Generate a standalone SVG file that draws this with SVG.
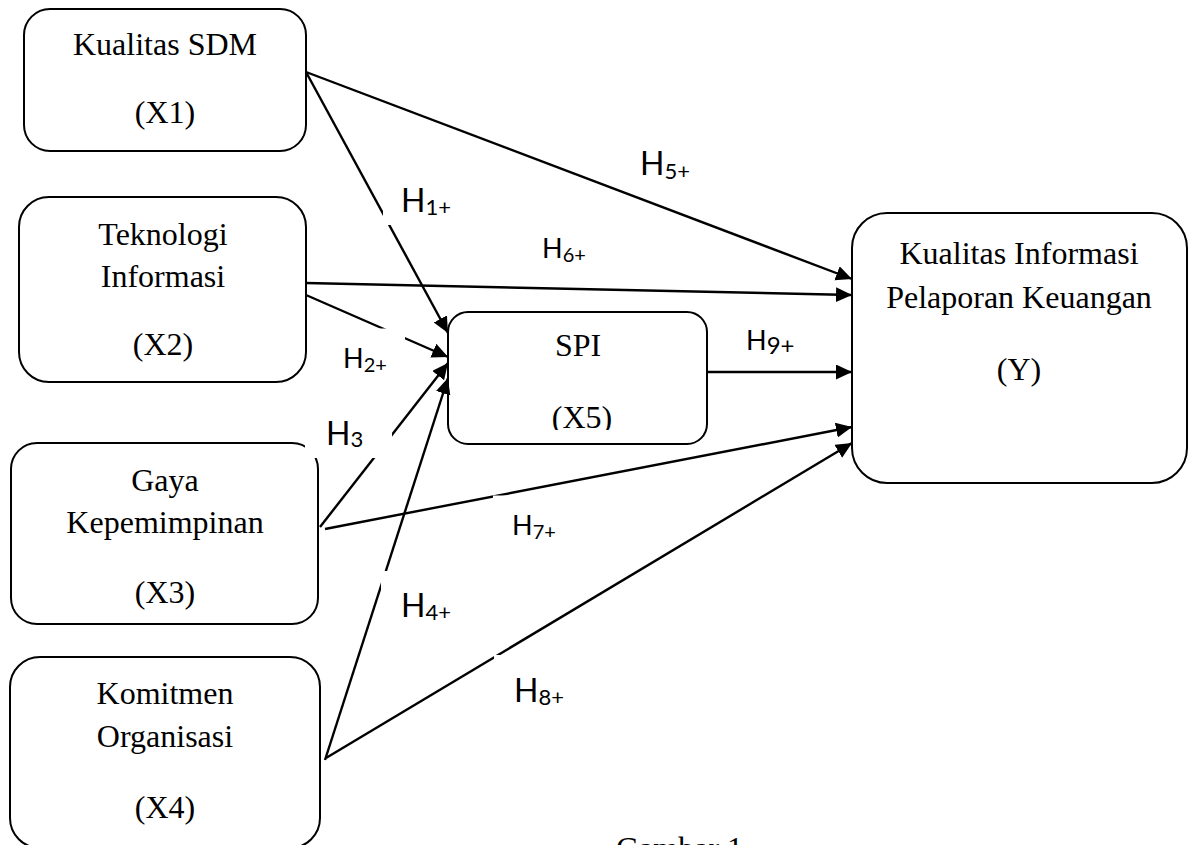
<svg xmlns="http://www.w3.org/2000/svg" width="1192" height="845" viewBox="0 0 1192 845">
  <style>
    .box { fill: #ffffff; stroke: #000000; stroke-width: 2; }
    .nt { font-family: "Liberation Serif", "Times New Roman", serif; font-size: 32px; fill: #000000; text-anchor: middle; }
    .ln { fill: none; stroke: #000000; stroke-width: 2.4; marker-end: url(#arr); }
    .lb { fill: #ffffff; stroke: none; }
    .hl { font-family: Lato, "Open Sans", sans-serif; font-size: 32px; fill: #000000; }
    .hs { font-family: Lato, "Open Sans", sans-serif; font-size: 27px; fill: #000000; }
    .sub { font-size: 22px; }
    .subs { font-size: 20px; }
  </style>
  <defs>
    <marker id="arr" markerUnits="userSpaceOnUse" markerWidth="18" markerHeight="16" refX="16" refY="7.5" orient="auto">
      <path d="M0,0 L16,7.5 L0,15 Z" fill="#000000"/>
    </marker>
    <clipPath id="clipX5">
      <rect x="448" y="312" width="259" height="118"/>
    </clipPath>
  </defs>
  <rect width="1192" height="845" fill="#ffffff"/>

  <g id="node-x1">
    <rect class="box" x="24" y="9" width="282" height="142" rx="26" ry="26"/>
    <text class="nt" x="165" y="55">Kualitas SDM</text>
    <text class="nt" x="165" y="123">(X1)</text>
  </g>
  <g id="node-x2">
    <rect class="box" x="19" y="197" width="287" height="185" rx="30" ry="30"/>
    <text class="nt" x="163" y="245">Teknologi</text>
    <text class="nt" x="163" y="287">Informasi</text>
    <text class="nt" x="163" y="355">(X2)</text>
  </g>
  <g id="node-x3">
    <rect class="box" x="11" y="443" width="307" height="181" rx="26" ry="26"/>
    <text class="nt" x="165" y="491">Gaya</text>
    <text class="nt" x="165" y="533">Kepemimpinan</text>
    <text class="nt" x="165" y="603">(X3)</text>
  </g>
  <g id="node-x4">
    <rect class="box" x="10" y="657" width="310" height="191" rx="30" ry="30"/>
    <text class="nt" x="165" y="704">Komitmen</text>
    <text class="nt" x="165" y="747">Organisasi</text>
    <text class="nt" x="165" y="818">(X4)</text>
  </g>
  <g id="node-x5">
    <rect class="box" x="448" y="312" width="259" height="132" rx="20" ry="20"/>
    <text class="nt" x="578" y="356">SPI</text>
    <text class="nt" x="582" y="428" clip-path="url(#clipX5)">(X5)</text>
  </g>
  <g id="node-y">
    <rect class="box" x="852" y="213" width="335" height="270" rx="35" ry="35"/>
    <text class="nt" x="1019" y="264">Kualitas Informasi</text>
    <text class="nt" x="1019" y="308">Pelaporan Keuangan</text>
    <text class="nt" x="1019" y="380">(Y)</text>
  </g>

  <g id="connectors">
    <line class="ln" x1="306" y1="72" x2="448" y2="333"/>
    <line class="ln" x1="306" y1="295" x2="448" y2="357"/>
    <line class="ln" x1="320" y1="527" x2="448" y2="363"/>
    <line class="ln" x1="325" y1="760" x2="448" y2="378"/>
    <line class="ln" x1="306" y1="72" x2="852" y2="279"/>
    <line class="ln" x1="306" y1="283" x2="852" y2="295"/>
    <line class="ln" x1="707" y1="372" x2="852" y2="372"/>
    <line class="ln" x1="325" y1="529" x2="852" y2="427"/>
    <line class="ln" x1="326" y1="758" x2="852" y2="443"/>
  </g>

  <g id="labels">
    <g id="label-h1">
      <rect class="lb" x="383" y="180" width="80" height="45"/>
      <text class="hl" x="401" y="212">H<tspan class="sub" dy="3">1+</tspan></text>
    </g>
    <g id="label-h2">
      <rect class="lb" x="338" y="328.5" width="67" height="50"/>
      <text class="hs" x="343" y="368">H<tspan class="subs" dy="4">2+</tspan></text>
    </g>
    <g id="label-h3">
      <rect class="lb" x="305" y="405" width="87" height="53"/>
      <text class="hl" x="326" y="445">H<tspan class="sub" dy="2">3</tspan></text>
    </g>
    <g id="label-h4">
      <rect class="lb" x="381" y="571" width="75" height="55"/>
      <text class="hl" x="401" y="617">H<tspan class="sub" dy="3">4+</tspan></text>
    </g>
    <g id="label-h5">
      <text class="hl" x="640" y="175">H<tspan class="sub" dy="4">5+</tspan></text>
    </g>
    <g id="label-h6">
      <text class="hs" x="542" y="258">H<tspan class="subs" dy="4">6+</tspan></text>
    </g>
    <g id="label-h7">
      <rect class="lb" x="493" y="495.5" width="70" height="50"/>
      <text class="hs" x="512" y="535">H<tspan class="subs" dy="4">7+</tspan></text>
    </g>
    <g id="label-h8">
      <rect class="lb" x="494" y="655" width="75" height="55"/>
      <text class="hl" x="514" y="702">H<tspan class="sub" dy="3">8+</tspan></text>
    </g>
    <g id="label-h9">
      <text class="hs" x="746" y="350">H<tspan font-size="24px" dy="4">9+</tspan></text>
    </g>
  </g>

  <text class="nt" x="616" y="859" style="text-anchor:start">Gambar 1</text>
</svg>
